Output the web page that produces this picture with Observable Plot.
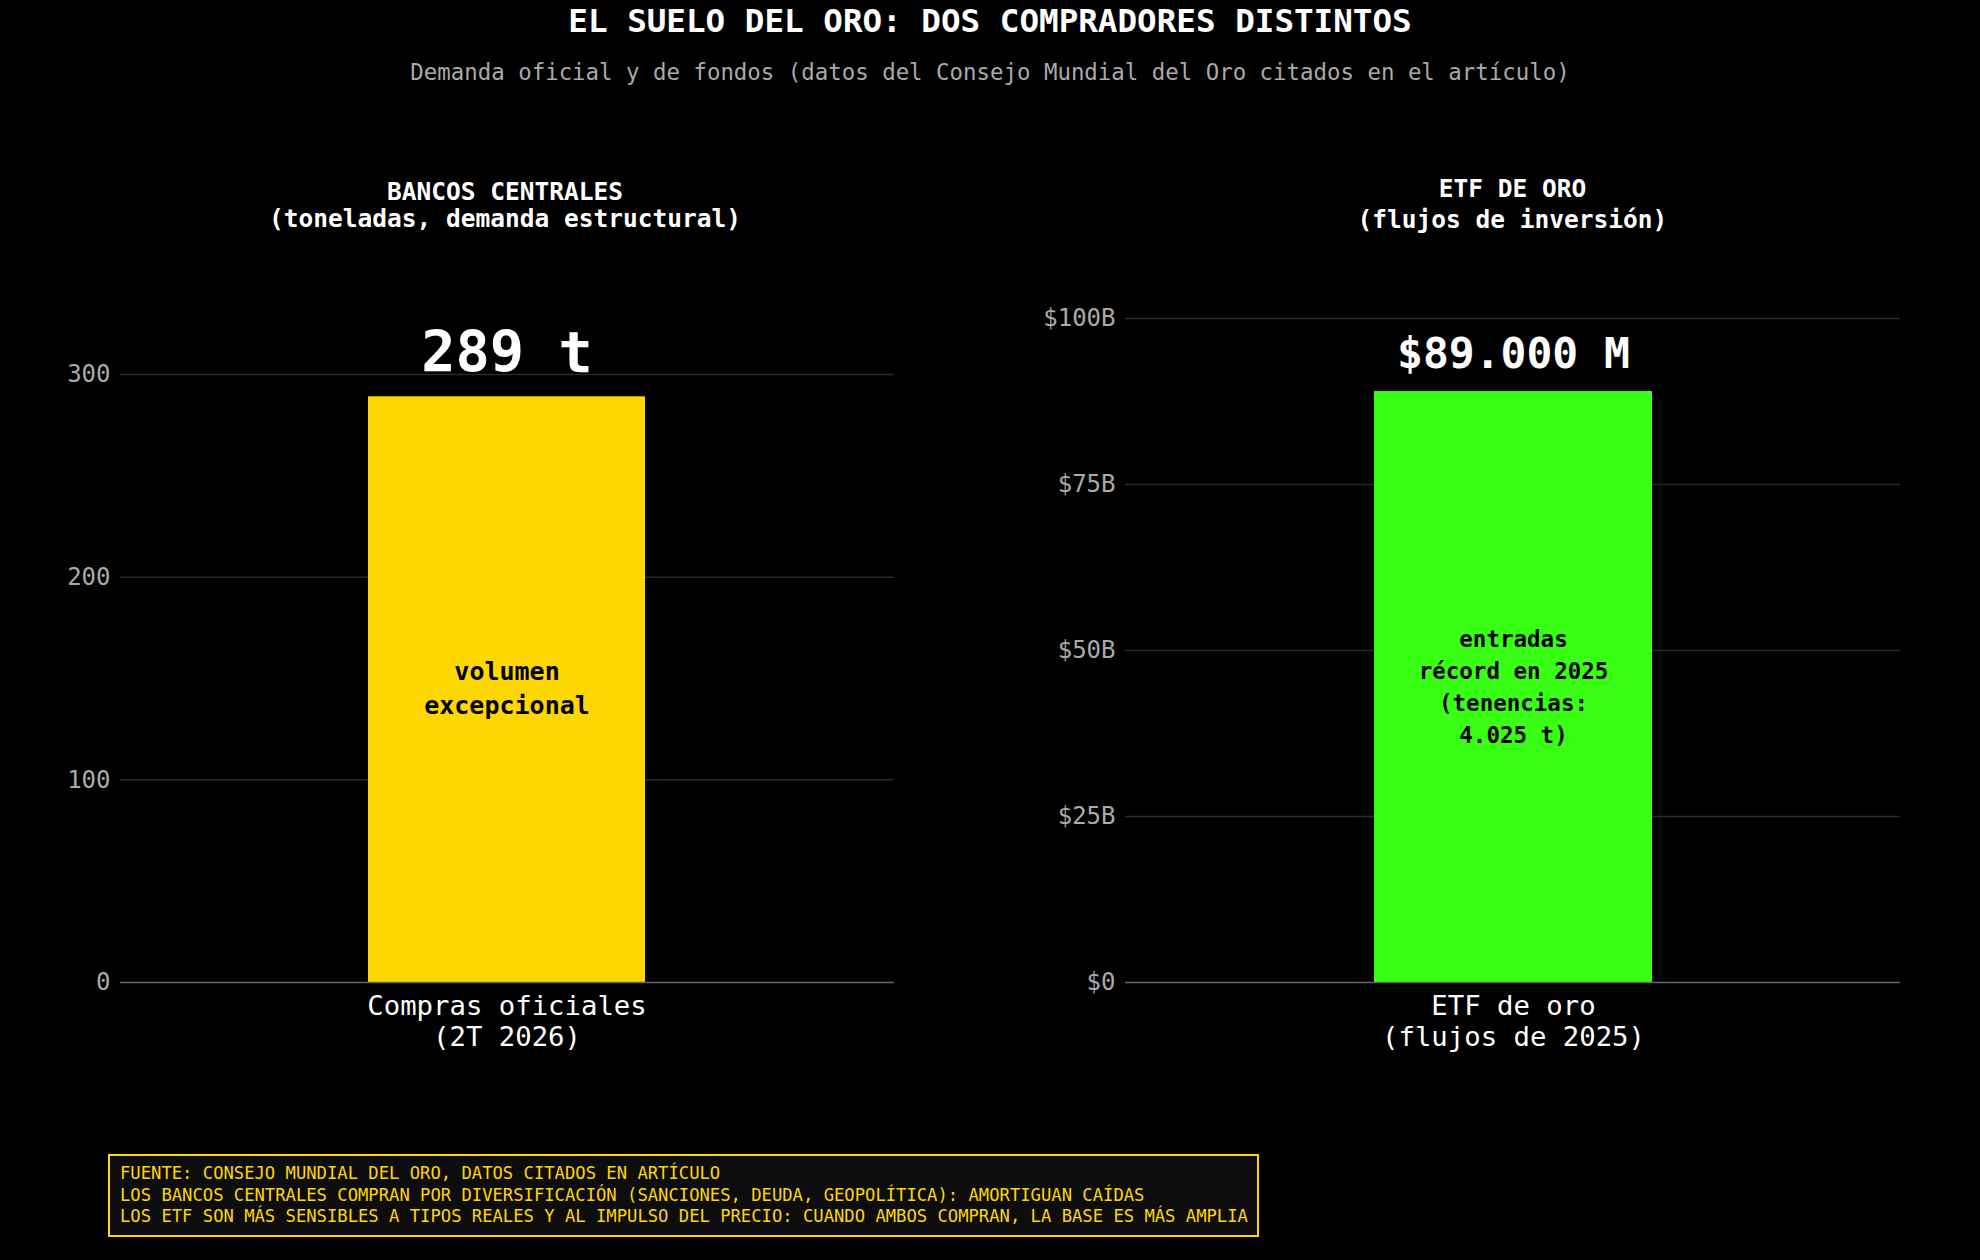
<!DOCTYPE html>
<html>
<head>
<meta charset="utf-8">
<script src="https://cdn.jsdelivr.net/npm/d3@7"></script>
<script src="https://cdn.jsdelivr.net/npm/@observablehq/plot@0.6"></script>
<style>
  html, body { margin: 0; padding: 0; background: #000; }
  body { width: 1980px; height: 1260px; position: relative; overflow: hidden; font-family: "DejaVu Sans Mono", monospace; }
  .abs { position: absolute; }
  #title { left: 0; width: 1980px; top: 5px; text-align: center; color: #fff; font-weight: bold; font-size: 32.6px; line-height: 32px; }
  #subtitle { left: 0; width: 1980px; top: 60px; text-align: center; color: #aaaaaa; font-size: 22.4px; line-height: 24px; }
  .ptitle { color: #fff; font-weight: bold; font-size: 24.5px; text-align: center; width: 800px; white-space: pre; }
  #footer { left: 108px; top: 1154px; width: 1151px; height: 83px; box-sizing: border-box; border: 2px solid #FFD700; background: #0d0d0d; color: #FFD700; font-size: 17.2px; line-height: 21.6px; padding: 7px 0 0 10px; white-space: pre; }
</style>
</head>
<body>
<div id="title" class="abs"></div>
<div id="subtitle" class="abs"></div>
<div id="pt0" class="abs ptitle"></div>
<div id="pt1" class="abs ptitle"></div>
<div id="chart0" class="abs"></div>
<div id="chart1" class="abs"></div>
<div id="footer" class="abs"></div>
<script>
// ---- data ----
const titleText = "EL SUELO DEL ORO: DOS COMPRADORES DISTINTOS";
const subtitleText = "Demanda oficial y de fondos (datos del Consejo Mundial del Oro citados en el artículo)";
const panelTitles = ["BANCOS CENTRALES\n(toneladas, demanda estructural)", "ETF DE ORO\n(flujos de inversión)"];
const categories = ["Compras oficiales\n(2T 2026)", "ETF de oro\n(flujos de 2025)"];
const values = [289, 89];               // toneladas ; miles de millones USD
const valueLabels = ["289 t", "$89.000 M"];
const innerLabels = ["volumen\nexcepcional", "entradas\nrécord en 2025\n(tenencias:\n4.025 t)"];
const barColors = ["#FFD700", "#39FF14"];
const leftTicks = [0, 100, 200, 300];
const rightTicks = [0, 25, 50, 75, 100];
const leftDomain = [0, 330];
const rightDomain = [0, 105];
const footerLines = [
  "FUENTE: CONSEJO MUNDIAL DEL ORO, DATOS CITADOS EN ARTÍCULO",
  "LOS BANCOS CENTRALES COMPRAN POR DIVERSIFICACIÓN (SANCIONES, DEUDA, GEOPOLÍTICA): AMORTIGUAN CAÍDAS",
  "LOS ETF SON MÁS SENSIBLES A TIPOS REALES Y AL IMPULSO DEL PRECIO: CUANDO AMBOS COMPRAN, LA BASE ES MÁS AMPLIA"
];

document.getElementById("title").textContent = titleText;
document.getElementById("subtitle").textContent = subtitleText;
document.getElementById("footer").textContent = footerLines.join("\n");

const pt0 = document.getElementById("pt0");
pt0.textContent = panelTitles[0];
pt0.style.left = (505 - 400) + "px"; pt0.style.top = "177.5px"; pt0.style.lineHeight = "27.6px";
const pt1 = document.getElementById("pt1");
pt1.textContent = panelTitles[1];
pt1.style.left = (1512.5 - 400) + "px"; pt1.style.top = "172.7px"; pt1.style.lineHeight = "31.5px";

function panel(i, opts) {
  const row = [{cat: categories[i], value: values[i], label: valueLabels[i], inner: innerLabels[i]}];
  return Plot.plot({
    width: 990,
    height: 860,
    marginLeft: opts.marginLeft,
    marginRight: opts.marginRight,
    marginTop: opts.marginTop,
    marginBottom: 118,
    style: {background: "#000", fontFamily: "DejaVu Sans Mono", color: "#fff", overflow: "visible"},
    x: {domain: [categories[i]], padding: 0.4715, label: null},
    y: {domain: opts.domain, nice: false, label: null},
    marks: [
      Plot.ruleY(opts.ticks.filter(d => d > 0), {stroke: "#2a2a2a", strokeWidth: 1.5}),
      Plot.barY(row, {x: "cat", y: "value", fill: barColors[i]}),
      Plot.ruleY([0], {stroke: "#666", strokeWidth: 1.5}),
      Plot.axisY({ticks: opts.ticks, tickFormat: opts.format, tickSize: 0, tickPadding: 10, fontSize: 24, color: "#aaaaaa", label: null}),
      Plot.axisX({tickSize: 0, tickPadding: 10, fontSize: 27.3, color: "#ffffff", lineHeight: 1.14, label: null}),
      Plot.text(row, {x: "cat", y: "value", text: "label", lineAnchor: "bottom", dy: opts.labelDy, fontSize: opts.labelSize, fontWeight: "bold", fill: "#fff"}),
      Plot.text(row, {x: "cat", y: d => d.value / 2, text: "inner", lineAnchor: "middle", dy: opts.innerDy, fontSize: opts.innerSize, lineHeight: opts.innerLH, fontWeight: "bold", fill: "#000"})
    ]
  });
}

const c0 = document.getElementById("chart0");
c0.style.left = "0px"; c0.style.top = "240px";
c0.appendChild(panel(0, {marginLeft: 120, marginRight: 96, marginTop: 982 - 240 - 330 * (608 / 300), domain: leftDomain, ticks: leftTicks, format: d => String(d), labelDy: -25, labelSize: 57, innerSize: 25, innerLH: 1.38, innerDy: -3.5}));

const c1 = document.getElementById("chart1");
c1.style.left = "990px"; c1.style.top = "240px";
c1.appendChild(panel(1, {marginLeft: 135, marginRight: 80, marginTop: 982 - 240 - 105 * 6.64, domain: rightDomain, ticks: rightTicks, format: d => d === 0 ? "$0" : "$" + d + "B", labelDy: -24, labelSize: 43, innerSize: 22.5, innerLH: 1.42, innerDy: -2.5}));
</script>
</body>
</html>
